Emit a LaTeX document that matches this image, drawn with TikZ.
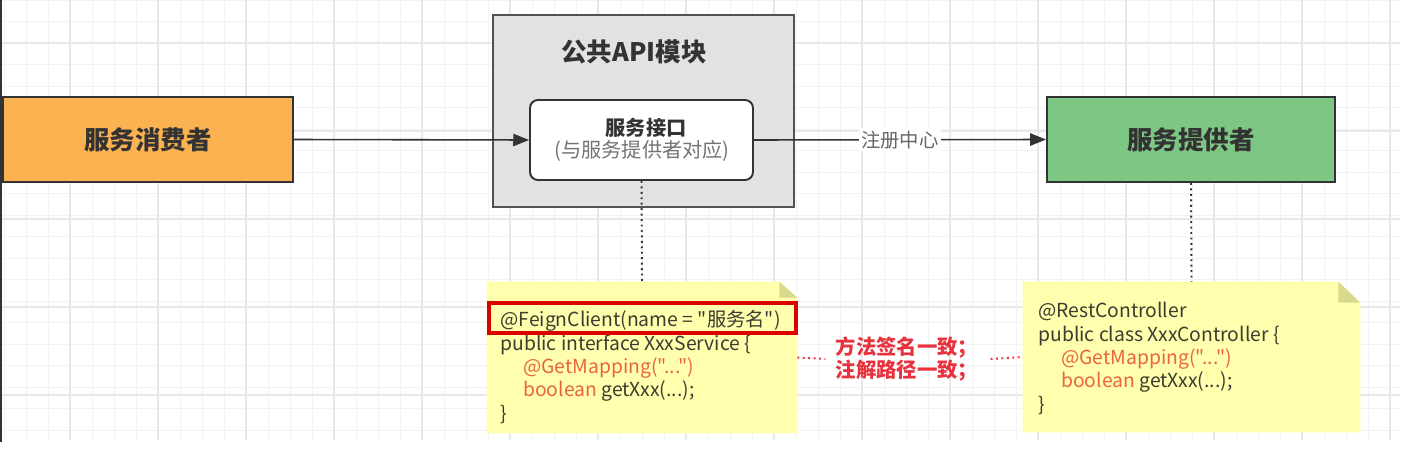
\documentclass[tikz,border=0pt]{standalone}
\usepackage{fontspec}
\setmainfont{Noto Sans CJK SC}
\newfontfamily\codefont{Noto Sans CJK SC}
\usetikzlibrary{arrows.meta,calc}
\definecolor{consumerfill}{HTML}{FBB351}
\definecolor{providerfill}{HTML}{7EC684}
\definecolor{modfill}{HTML}{E2E2E2}
\definecolor{notefill}{HTML}{FFFFAE}
\definecolor{foldfill}{HTML}{D9D98E}
\definecolor{codetext}{HTML}{3C3C30}
\definecolor{codered}{HTML}{EA643E}
\definecolor{labred}{HTML}{E8323E}
\definecolor{boxred}{HTML}{DD0000}
\definecolor{edgegray}{HTML}{333333}
\definecolor{gridc}{HTML}{F2F2F2}
\definecolor{gridmaj}{HTML}{E8E8E8}
\begin{document}
\begin{tikzpicture}[x=0.02cm,y=-0.02cm,
  bigbox/.style={draw=edgegray,line width=1.2pt,minimum height=1.7cm,text=black!80,font=\fontsize{14.5pt}{16pt}\selectfont\bfseries},
  modbox/.style={draw=edgegray!85,line width=1.2pt,fill=modfill},
  ifbox/.style={draw=edgegray,line width=1.1pt,fill=white,rounded corners=4.5pt,minimum width=4.46cm,minimum height=1.6cm,align=center},
  notebox/.style={inner sep=0pt},
  code/.style={anchor=north west,align=left,inner sep=0pt,text=codetext,font=\codefont\fontsize{11pt}{13.3pt}\selectfont},
  flow/.style={draw=edgegray,line width=0.9pt,-{Triangle[length=9pt,width=7pt]}},
  link/.style={draw=edgegray,line width=1.1pt,dotted},
  redlink/.style={draw=labred,line width=1.1pt,dotted},
]
\useasboundingbox (0,0) rectangle (1425,473);
% background grid
\foreach \x in {4,26,...,1400} \draw[gridc,line width=0.5pt] (\x,0) -- (\x,440);
\foreach \y in {0,21.5,...,440} \draw[gridc,line width=0.5pt] (0,\y) -- (1400,\y);
\foreach \x in {70,158,...,1400} \draw[gridmaj,line width=0.6pt] (\x,0) -- (\x,440);
\foreach \y in {43,131,...,440} \draw[gridmaj,line width=0.6pt] (0,\y) -- (1400,\y);
\draw[edgegray,line width=1pt] (0.8,0) -- (0.8,442);

% boxes
\node[bigbox,fill=consumerfill,minimum width=5.8cm] (consumer) at (148,139.5) {服务消费者};
\node[modbox,minimum width=6.02cm,minimum height=3.84cm] (module) at (643.5,111) {};
\node[text=black!80,font=\fontsize{14.5pt}{16pt}\selectfont\bfseries] (modtitle) at (634,52) {公共API模块};
\node[ifbox] (iface) at (641.5,140) {};
\node[text=black!80,font=\fontsize{11.5pt}{13pt}\selectfont\bfseries] (iftitle) at (646,128) {服务接口};
\node[text=black!55,font=\fontsize{11.5pt}{13pt}\selectfont] (ifsub) at (642,151) {(与服务提供者对应)};
\node[bigbox,fill=providerfill,minimum width=5.76cm] (provider) at (1191,139.5) {服务提供者};

% notes
\node[notebox,minimum width=6.2cm,minimum height=3.02cm] (lnote) at (642,357.5) {};
\fill[notefill] (lnote.north west) -- ($(lnote.north east)+(-18,0)$) -- ($(lnote.north east)+(0,16)$) -- (lnote.south east) -- (lnote.south west) -- cycle;
\fill[foldfill] ($(lnote.north east)+(-18,0)$) -- ($(lnote.north east)+(-18,16)$) -- ($(lnote.north east)+(0,16)$) -- cycle;
\node[notebox,minimum width=6.74cm,minimum height=3.0cm] (rnote) at (1191.5,357) {};
\fill[notefill] (rnote.north west) -- ($(rnote.north east)+(-22,0)$) -- ($(rnote.north east)+(0,21)$) -- (rnote.south east) -- (rnote.south west) -- cycle;
\fill[foldfill] ($(rnote.north east)+(-22,0)$) -- ($(rnote.north east)+(-22,21)$) -- ($(rnote.north east)+(0,21)$) -- cycle;

\node[code] (lcode) at (500,310) {@FeignClient(name = "服务名")\\
public interface XxxService \{\\
\hspace*{13pt}\textcolor{codered}{@GetMapping("...")}\\
\hspace*{13pt}\textcolor{codered}{boolean} getXxx(...);\\
\}};
\draw[boxred,line width=1.8pt] (489,303) rectangle (796,333);
\node[code] (rcode) at (1038,302) {@RestController\\
public class XxxController \{\\
\hspace*{13pt}\textcolor{codered}{@GetMapping("...")}\\
\hspace*{13pt}\textcolor{codered}{boolean} getXxx(...);\\
\}};

% connectors
\draw[flow] (consumer.east) -- (iface.west);
\draw[flow] (iface.east) -- node[fill=white,inner sep=1.5pt,text=black!60,font=\fontsize{11pt}{12pt}\selectfont] (reg) {注册中心} (provider.west);
\draw[link] (iface.south) -- (lnote.north);
\draw[link] (provider.south) -- (rnote.north);
\node[text=labred,align=center,font=\fontsize{11.6pt}{13.5pt}\selectfont\bfseries] (same) at (907,359) {方法签名一致；\\注解路径一致；};
\draw[redlink] (lnote.east) -- ($(same.west)+(-4,0)$);
\draw[redlink] ($(same.east)+(6,0)$) -- (rnote.west);
\end{tikzpicture}
\end{document}
